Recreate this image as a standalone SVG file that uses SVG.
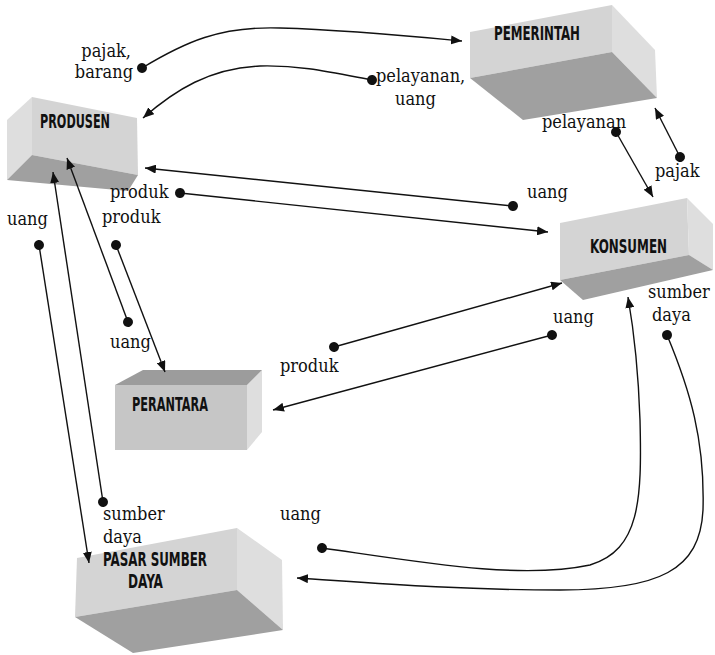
<svg xmlns="http://www.w3.org/2000/svg" width="715" height="655" viewBox="0 0 715 655">
<defs>
<marker id="arr" markerUnits="userSpaceOnUse" markerWidth="12" markerHeight="9" refX="11" refY="4.5" orient="auto"><path d="M0,0 L11,4.5 L0,9 z" fill="#111"/></marker>
<marker id="dot" markerUnits="userSpaceOnUse" markerWidth="12" markerHeight="12" refX="6" refY="6" orient="auto"><circle cx="6" cy="6" r="5" fill="#111"/></marker>
</defs>
<style>
.lt{fill:#d4d4d4}
.sd{fill:#dedede}
.dk{fill:#a0a0a0}
.bl{font-family:"DejaVu Sans Condensed","DejaVu Sans",sans-serif;font-weight:bold;font-size:19px;fill:#111}
.t{font-family:"DejaVu Serif Condensed","Liberation Serif",serif;font-size:18px;fill:#111}
.c{fill:none;stroke:#111;stroke-width:1.4;marker-start:url(#dot);marker-end:url(#arr)}
</style>
<rect width="715" height="655" fill="#fff"/>
<g id="produsen">
<polygon class="sd" points="7,120 32,97 32,155 7,180"/>
<polygon class="lt" points="32,97 137,118 138,175 32,155"/>
<polygon class="dk" points="7,180 32,155 138,175 128,191"/>
<text class="bl" x="40" y="128" textLength="70" lengthAdjust="spacingAndGlyphs">PRODUSEN</text>
</g>
<g id="pemerintah">
<polygon class="lt" points="470,32 612,5 612,52 470,78"/>
<polygon class="sd" points="612,5 655,50 657,98 612,52"/>
<polygon class="dk" points="470,78 612,52 657,98 523,120"/>
<text class="bl" x="494" y="40" textLength="86" lengthAdjust="spacingAndGlyphs">PEMERINTAH</text>
</g>
<g id="konsumen">
<polygon class="lt" points="560,223 687,198 689,255 560,280"/>
<polygon class="sd" points="687,198 713,224 713,270 689,255"/>
<polygon class="dk" points="560,280 689,255 713,270 583,300"/>
<text class="bl" x="590" y="253" textLength="77" lengthAdjust="spacingAndGlyphs">KONSUMEN</text>
</g>
<g id="perantara">
<polygon fill="#c6c6c6" points="115,385 247,385 247,450 115,450"/>
<polygon class="sd" points="247,385 262,370 262,432 247,450"/>
<polygon fill="#9c9c9c" points="115,385 143,370 262,370 247,385"/>
<text class="bl" x="132" y="411" textLength="76" lengthAdjust="spacingAndGlyphs">PERANTARA</text>
</g>
<g id="pasar">
<polygon class="lt" points="77,558 237,528 237,590 75,617"/>
<polygon class="sd" points="237,528 282,560 283,630 237,590"/>
<polygon class="dk" points="75,617 237,590 283,630 133,653"/>
<text class="bl" x="103" y="566" textLength="104" lengthAdjust="spacingAndGlyphs">PASAR SUMBER</text>
<text class="bl" x="128" y="588" textLength="35" lengthAdjust="spacingAndGlyphs">DAYA</text>
</g>
<g id="connectors">
<path class="c" d="M142,68 C185,42 220,26 280,28 C350,30 410,36 462,41"/>
<path class="c" d="M372,80 C330,72 300,65 260,66 C210,68 175,90 143,118"/>
<path class="c" d="M616,132 L653,197"/>
<path class="c" d="M680,157 L655,108"/>
<path class="c" d="M513,206 L145,168"/>
<path class="c" d="M180,193 L548,232"/>
<path class="c" d="M39,245 L89,563"/>
<path class="c" d="M103,502 L53,172"/>
<path class="c" d="M128,322 L67,158"/>
<path class="c" d="M116,245 L165,372"/>
<path class="c" d="M334,347 L562,283"/>
<path class="c" d="M552,335 L273,410"/>
<path class="c" d="M322,548 C420,562 520,580 590,565 C640,550 642,500 640,420 C638,360 632,320 628,297"/>
<path class="c" d="M667,335 C690,390 705,440 703,510 C700,570 660,590 560,590 C450,590 360,582 297,578"/>
</g>
<g id="labels">
<text class="t" x="131" y="57" text-anchor="end">pajak,</text>
<text class="t" x="133" y="78" text-anchor="end">barang</text>
<text class="t" x="376" y="82">pelayanan,</text>
<text class="t" x="395" y="105">uang</text>
<text class="t" x="542" y="128">pelayanan</text>
<text class="t" x="655" y="177">pajak</text>
<text class="t" x="110" y="198">produk</text>
<text class="t" x="102" y="223">produk</text>
<text class="t" x="7" y="225">uang</text>
<text class="t" x="527" y="198">uang</text>
<text class="t" x="110" y="348">uang</text>
<text class="t" x="280" y="372">produk</text>
<text class="t" x="553" y="323">uang</text>
<text class="t" x="648" y="298">sumber</text>
<text class="t" x="652" y="321">daya</text>
<text class="t" x="103" y="520">sumber</text>
<text class="t" x="103" y="543">daya</text>
<text class="t" x="280" y="520">uang</text>
</g>
</svg>
